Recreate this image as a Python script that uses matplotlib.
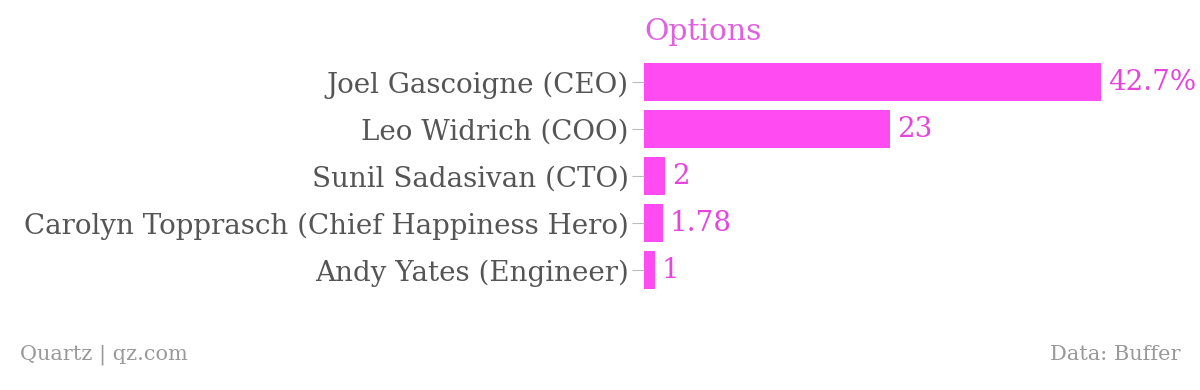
import matplotlib as mpl
import matplotlib.pyplot as plt

mpl.rcParams['font.family'] = 'DejaVu Serif'

# data
names = ['Joel Gascoigne (CEO)', 'Leo Widrich (COO)', 'Sunil Sadasivan (CTO)',
         'Carolyn Topprasch (Chief Happiness Hero)', 'Andy Yates (Engineer)']
options = [42.7, 23, 2, 1.78, 1]
value_labels = ['42.7%', '23', '2', '1.78', '1']

bar_col = '#ff4cf2'
txt_col = '#e545dd'

fig = plt.figure(figsize=(12, 3.9), dpi=100)
ax = fig.add_axes([644/1200, 0.2474, 457/1200, 0.6026])

ypos = list(range(len(names)))
ax.barh(ypos, options, height=0.8, color=bar_col)
ax.set_ylim(len(names) - 0.5, -0.5)
ax.set_xlim(0, max(options))
ax.set_yticks(ypos)
ax.set_yticklabels(names, fontsize=20, color='#555555')
ax.tick_params(axis='y', length=9, width=0.8, color='#bbbbbb', pad=2)
ax.set_xticks([])
for s in ax.spines.values():
    s.set_visible(False)

for y, v, lbl in zip(ypos, options, value_labels):
    ax.annotate(lbl, (v, y), xytext=(5, 0), textcoords='offset points',
                va='center', ha='left', fontsize=20, color=txt_col,
                annotation_clip=False)

fig.text(644/1200, 1 - 32/390, 'Options', fontsize=21.5, color='#e060e0',
         ha='left', va='center')
fig.text(20/1200, 1 - 355/390, 'Quartz | qz.com', fontsize=15, color='#999999',
         ha='left', va='center')
fig.text(1180/1200, 1 - 355/390, 'Data: Buffer', fontsize=15, color='#999999',
         ha='right', va='center')

plt.savefig('out.png', dpi=100)
